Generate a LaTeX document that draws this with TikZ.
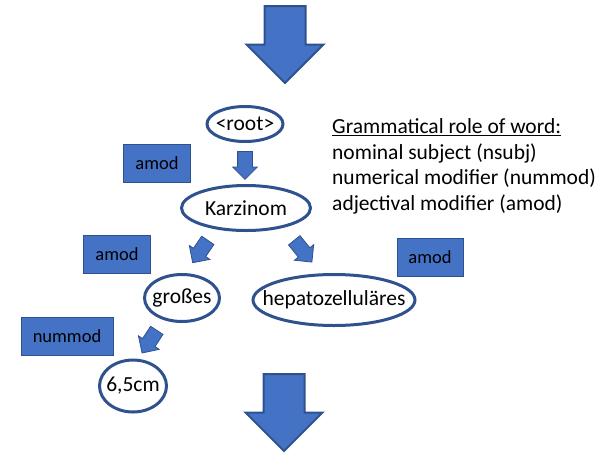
\documentclass[tikz,border=0pt]{standalone}
\usepackage{fontspec}
\setmainfont{Carlito}
\usetikzlibrary{shapes.geometric,shapes.arrows,calc}
\definecolor{boxblue}{HTML}{4472C4}
\definecolor{edgeblue}{HTML}{2F528F}
\newcommand{\slim}[1]{\makebox[0pt]{#1}}

\begin{document}
\begin{tikzpicture}[x=1pt,y=-1pt,
  word/.style={ellipse,draw=edgeblue,line width=3pt,inner sep=0pt,font=\fontsize{21.5}{25}\selectfont},
  role/.style={rectangle,fill=boxblue,draw=edgeblue,line width=0.8pt,inner sep=0pt,minimum height=38pt,font=\fontsize{18.5}{22}\selectfont},
  bigarrow/.style={single arrow,fill=boxblue,draw=edgeblue,line width=2pt,inner xsep=0pt,inner ysep=19.5pt,single arrow head extend=18pt,single arrow head indent=0pt,minimum height=77pt,anchor=tail,rotate=-90},
  smallarrow/.style={single arrow,fill=boxblue,draw=edgeblue,line width=0.8pt,inner xsep=0pt,inner ysep=7pt,single arrow head extend=5pt,single arrow head indent=0pt,anchor=tail}]

 \useasboundingbox (0,0) rectangle (615,453);

 % words of the sentence
 \node[word,minimum width=76pt,minimum height=35pt] (root) at (245,124) {\slim{<root>}};
 \node[word,minimum width=129pt,minimum height=45pt] (karzinom) at (246,208) {\slim{Karzinom}};
 \node[word,minimum width=75pt,minimum height=47pt] (grosses) at (182,298) {\slim{großes}};
 \node[word,minimum width=162pt,minimum height=51pt] (hepato) at (334,300) {\slim{hepatozelluläres}};
 \node[word,minimum width=67pt,minimum height=52pt] (zahl) at (133,386) {\slim{6,5cm}};

 % role labels
 \node[role,minimum width=67pt] (amodA) at (157,163) {amod};
 \node[role,minimum width=67pt] (amodB) at (117,254) {amod};
 \node[role,minimum width=66pt] (amodC) at (430,257) {amod};
 \node[role,minimum width=92pt] (nummod) at (67,336) {nummod};

 % block arrows
 \coordinate (intop) at (285,5);
 \coordinate (outbot) at (284,373);
 \node[bigarrow] (arrtop) at (intop) {};
 \node[bigarrow] (arrbot) at (outbot) {};

 \coordinate (t1) at ($(root.south)+(0,8)$);
 \coordinate (t2) at ($(karzinom.center)+(-38,32)$);
 \coordinate (t3) at ($(karzinom.center)+(48,32)$);
 \coordinate (t4) at ($(grosses.center)+(-25,32)$);
 \node[smallarrow,minimum height=28pt,rotate=-90] (a1) at (t1) {};
 \node[smallarrow,minimum height=27pt,rotate=-124] (a2) at (t2) {};
 \node[smallarrow,minimum height=28pt,rotate=-51] (a3) at (t3) {};
 \node[smallarrow,minimum height=27pt,rotate=-123] (a4) at (t4) {};

 % legend
 \node[anchor=base west,align=left,inner sep=0pt,font=\fontsize{21.5}{25.5}\selectfont] (legend) at (332,210)
  {\underline{Grammatical role of word:}\\
   nominal subject (nsubj)\\
   numerical modifier (nummod)\\
   adjectival modifier (amod)};
\end{tikzpicture}
\end{document}
